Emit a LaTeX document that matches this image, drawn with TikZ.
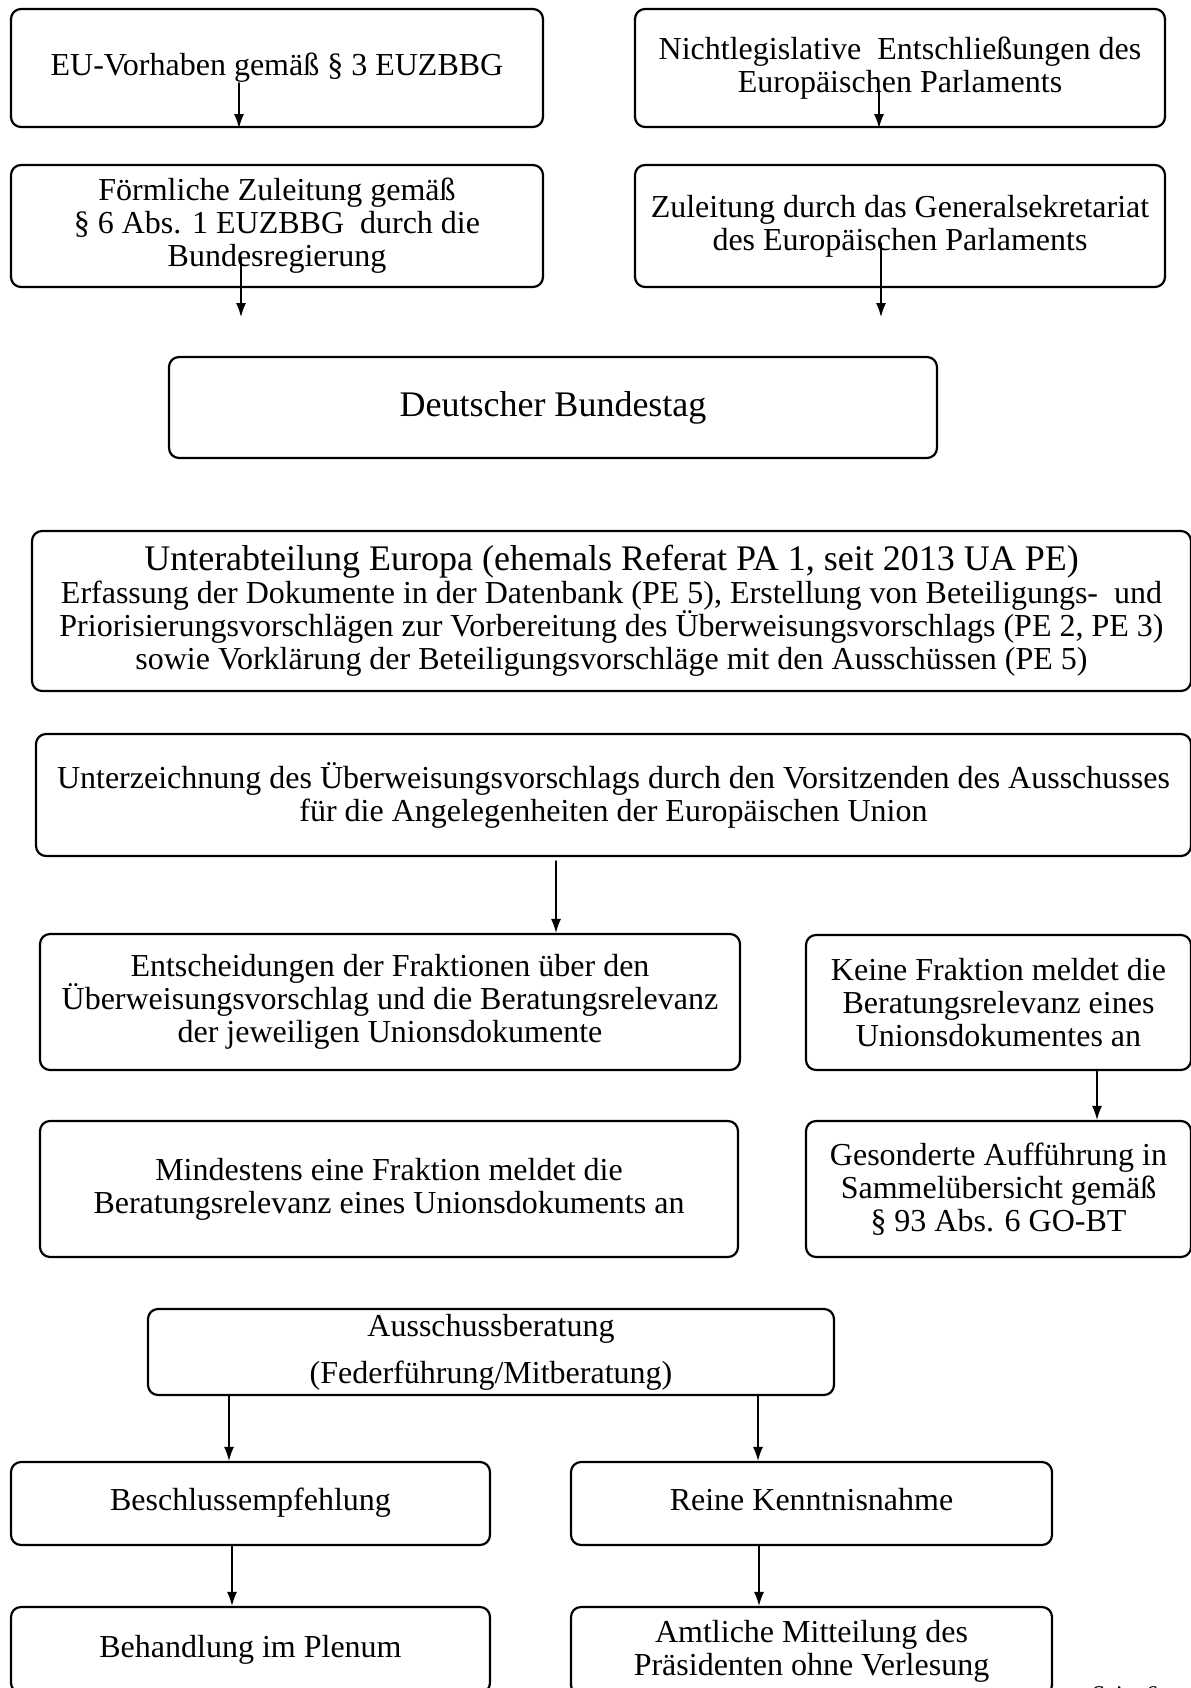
\documentclass[tikz,border=0pt]{standalone}
\usepackage{fontspec}
\setmainfont{Liberation Serif}
\usetikzlibrary{arrows.meta}
\begin{document}
\begin{tikzpicture}[x=0.5pt, y=-0.5pt, font=\fontsize{16}{16.5}\selectfont, line join=round, line cap=round, >={Latex[length=7pt,width=5pt]},
	box/.style={draw, line width=1.1pt, rounded corners=5pt, align=center, inner sep=2pt},
	arr/.style={->, line width=0.7pt}]
	\useasboundingbox (0,0) rectangle (1190,1688);
	\node[box, minimum width=266pt, minimum height=59pt] (euv) at (277,68) {EU-Vorhaben gemäß § 3 EUZBBG};
	\node[box, minimum width=265pt, minimum height=59pt] (nle) at (900,68) {Nichtlegislative\ \ Entschließungen des\\Europäischen Parlaments};
	\node[box, minimum width=266pt, minimum height=61pt] (zul) at (277,226) {Förmliche Zuleitung gemäß\\§ 6 Abs. 1 EUZBBG\ \ durch die\\Bundesregierung};
	\node[box, minimum width=265pt, minimum height=61pt] (gen) at (900,226) {Zuleitung durch das Generalsekretariat\\des Europäischen Parlaments};
	\node[box, minimum width=384pt, minimum height=50.5pt, font=\fontsize{18}{18}\selectfont] (dbt) at (553,407.5) {Deutscher Bundestag};
	\node[box, minimum width=579.5pt, minimum height=80pt] (uae) at (611.5,611) {{\fontsize{18}{16.5}\selectfont Unterabteilung Europa (ehemals Referat PA 1, seit 2013 UA PE)}\\Erfassung der Dokumente in der Datenbank (PE 5), Erstellung von Beteiligungs-\ \ und\\Priorisierungsvorschlägen zur Vorbereitung des Überweisungsvorschlags (PE 2, PE 3)\\sowie Vorklärung der Beteiligungsvorschläge mit den Ausschüssen (PE 5)};
	\node[box, minimum width=577.5pt, minimum height=61pt] (unt) at (613.5,795) {Unterzeichnung des Überweisungsvorschlags durch den Vorsitzenden des Ausschusses\\für die Angelegenheiten der Europäischen Union};
	\node[box, minimum width=350pt, minimum height=68pt] (ent) at (390,1002) {Entscheidungen der Fraktionen über den\\Überweisungsvorschlag und die Beratungsrelevanz\\der jeweiligen Unionsdokumente};
	\node[box, minimum width=192.5pt, minimum height=67.5pt] (kei) at (998.5,1002.5) {Keine Fraktion meldet die\\Beratungsrelevanz eines\\Unionsdokumentes an};
	\node[box, minimum width=349pt, minimum height=68pt] (mind) at (389,1189) {Mindestens eine Fraktion meldet die\\Beratungsrelevanz eines Unionsdokuments an};
	\node[box, minimum width=192.5pt, minimum height=68pt] (ges) at (998.5,1189) {Gesonderte Aufführung in\\Sammelübersicht gemäß\\§ 93 Abs. 6 GO-BT};
	\node[box, minimum width=343pt, minimum height=43pt] (aus) at (491,1352) {Ausschussberatung\\[7pt](Federführung/Mitberatung)};
	\node[box, minimum width=239.5pt, minimum height=41.5pt] (bes) at (250.5,1503.5) {\strut Beschlussempfehlung};
	\node[box, minimum width=240.5pt, minimum height=41.5pt] (rei) at (811.5,1503.5) {\strut Reine Kenntnisnahme};
	\node[box, minimum width=239.5pt, minimum height=43pt] (beh) at (250.5,1650) {Behandlung im Plenum};
	\node[box, minimum width=240.5pt, minimum height=44pt] (amt) at (811.5,1651) {Amtliche Mitteilung des\\Präsidenten ohne Verlesung};
	\node[anchor=base west, font=\fontsize{12}{14}\selectfont] (seite) at (1085,1702) {Seite 6};
	\coordinate (a1) at (239,83);
	\coordinate (a2) at (879,90);
	\coordinate (a3) at (241,257);
	\coordinate (a4) at (881,243);
	\coordinate (a5) at (556,861);
	\coordinate (a6) at (1097,0);
	\coordinate (a7) at (229,0);
	\coordinate (a8) at (758,0);
	\coordinate (a9) at (232,0);
	\coordinate (a10) at (759,0);
	\draw[arr] (a1) -- (a1 |- euv.south);
	\draw[arr] (a2) -- (a2 |- nle.south);
	\draw[arr] (a3) -- ++(0,60);
	\draw[arr] (a4) -- ++(0,74);
	\draw[arr] (a5) -- (a5 |- ent.north);
	\draw[arr] (kei.south -| a6) -- (ges.north -| a6);
	\draw[arr] (aus.south -| a7) -- (bes.north -| a7);
	\draw[arr] (aus.south -| a8) -- (rei.north -| a8);
	\draw[arr] (bes.south -| a9) -- (beh.north -| a9);
	\draw[arr] (rei.south -| a10) -- (amt.north -| a10);
\end{tikzpicture}
\end{document}
